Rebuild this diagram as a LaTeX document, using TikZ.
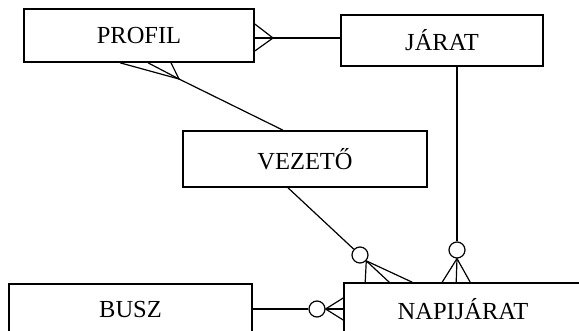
\documentclass[tikz,border=0pt]{standalone}
\usepackage{fontspec}
\setmainfont{Liberation Serif}
\usepackage{tikz}
\usetikzlibrary{calc}

\begin{document}
\begin{tikzpicture}[
    x=1pt, y=-1pt,
    every node/.style={font=\fontsize{24.5}{29}\selectfont},
    entity/.style={rectangle, draw, line width=1.6pt, fill=white, inner sep=0pt, align=center},
    rel/.style={line width=1.2pt},
    ring/.style={circle, draw, line width=1.2pt, fill=white, minimum size=16pt, inner sep=0pt}
]
\useasboundingbox (0,0) rectangle (579,331);

% Entities
\node[entity, minimum width=230pt, minimum height=53pt] (profil) at (139,35.5) {PROFIL};
\node[entity, minimum width=202pt, minimum height=51pt] (jarat) at (442,40.5) {JÁRAT};
\node[entity, minimum width=244pt, minimum height=56pt] (vezeto) at (305,159) {VEZETŐ};
\node[entity, minimum width=243pt, minimum height=52pt] (busz) at (130.5,310) {BUSZ};
\node[entity, minimum width=238pt, minimum height=52pt] (napi) at (463,309) {NAPIJÁRAT};

% Fork points
\coordinate (pj) at (273,38);
\coordinate (pv) at (179,79);

% Optional ends
\node[ring] (ov) at (360,255) {};
\node[ring] (oj) at (457,250) {};
\node[ring] (ob) at (317,309) {};

% PROFIL - JARAT
\draw[rel] (pj) -- (pj -| jarat.west);
\foreach \dy in {-14,0,13}
    \draw[rel] (pj) -- ($(profil.east |- pj)+(0,\dy)$);

% PROFIL - VEZETO
\draw[rel] (pv) -- ($(vezeto.north)+(-22,0)$);
\foreach \dx in {-19,9,32}
    \draw[rel] (pv) -- ($(profil.south)+(\dx,0)$);

% VEZETO - NAPIJARAT
\draw[rel] ($(vezeto.south)+(-17,0)$) -- (ov);
\foreach \dx in {22,46,69}
    \draw[rel] (ov.-43) -- ($(napi.north west)+(\dx,0)$);

% JARAT - NAPIJARAT
\draw[rel] ($(jarat.south)+(15,0)$) -- (oj);
\foreach \dx in {99,113,127}
    \draw[rel] (oj.south) -- ($(napi.north west)+(\dx,0)$);

% BUSZ - NAPIJARAT
\draw[rel] (busz.east |- ob) -- (ob);
\foreach \dy in {-11,0,11}
    \draw[rel] (ob.east) -- ($(napi.west)+(0,\dy)$);

\end{tikzpicture}
\end{document}
